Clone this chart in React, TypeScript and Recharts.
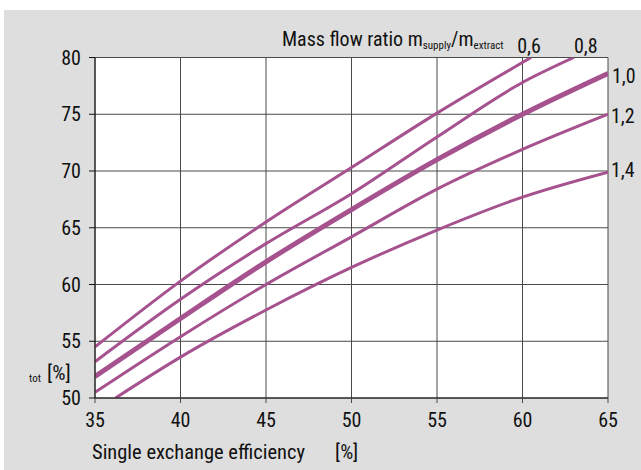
import React from 'react';
import { LineChart, Line, XAxis, YAxis, CartesianGrid, Customized } from 'recharts';

const X_TICKS = [35, 40, 45, 50, 55, 60, 65];
const Y_TICKS = [50, 55, 60, 65, 70, 75, 80];

// efficiency curves, one per mass flow ratio
const R06_X = [35, 40, 45, 50, 55, 60.5];
const R06_Y = [54.5, 60.3, 65.5, 70.3, 75.1, 80];
const R08_X = [35, 40, 45, 50, 55, 60, 63];
const R08_Y = [53.2, 58.7, 63.6, 68.0, 73.0, 77.8, 80];
const R10_X = [35, 40, 45, 50, 55, 60, 65];
const R10_Y = [51.9, 57.0, 62.0, 66.6, 71.0, 75.0, 78.6];
const R12_X = [35, 40, 45, 50, 55, 60, 65];
const R12_Y = [50.5, 55.4, 60.0, 64.2, 68.4, 71.9, 75.0];
const R14_X = [36.2, 40, 45, 50, 55, 60, 65];
const R14_Y = [50, 53.6, 57.75, 61.5, 64.8, 67.7, 69.9];

const RATIO_LABELS = ['0,6', '0,8', '1,0', '1,2', '1,4'];

const FONT = "'Liberation Sans Narrow', 'Roboto Condensed', 'Arial Narrow', sans-serif";
const PURPLE = '#a5528f';
const GRID = '#4a4a4a';

const toPoints = (xs: number[], ys: number[]) => xs.map((x, i) => ({ x, y: ys[i] }));

const series = [
  { name: RATIO_LABELS[0], data: toPoints(R06_X, R06_Y), width: 3, dx: -2, dy: -5, anchor: 'middle' },
  { name: RATIO_LABELS[1], data: toPoints(R08_X, R08_Y), width: 3, dx: 12, dy: -5, anchor: 'middle' },
  { name: RATIO_LABELS[2], data: toPoints(R10_X, R10_Y), width: 5, dx: 4, dy: 10, anchor: 'start' },
  { name: RATIO_LABELS[3], data: toPoints(R12_X, R12_Y), width: 3, dx: 3, dy: 9, anchor: 'start' },
  { name: RATIO_LABELS[4], data: toPoints(R14_X, R14_Y), width: 3, dx: 3, dy: 5, anchor: 'start' },
];

const endLabel = (s: typeof series[number]) => (props: any) => {
  if (props.index !== s.data.length - 1) return <g />;
  return (
    <text x={props.x + s.dx} y={props.y + s.dy} textAnchor={s.anchor as any} fontSize={20} fontFamily={FONT} fill="#111">
      {s.name}
    </text>
  );
};

// offsets of the svg inside the page
const OX = 4;
const OY = 10;

const Texts = () => (
  <g fontFamily={FONT} fill="#111">
    <text x={282 - OX} y={46 - OY} fontSize={20}>
      Mass flow ratio m
      <tspan fontSize={11} dy={3}>supply</tspan>
      <tspan fontSize={20} dy={-3}>/m</tspan>
      <tspan fontSize={11} dy={3}>extract</tspan>
    </text>
    <text x={92 - OX} y={459 - OY} fontSize={20.5}>Single exchange efficiency</text>
    <text x={335 - OX} y={459 - OY} fontSize={20.5}>[%]</text>
    <text x={29 - OX} y={382 - OY} fontSize={11}>tot</text>
    <text x={47 - OX} y={380 - OY} fontSize={21}>[%]</text>
  </g>
);

export default function App() {
  return (
    <div style={{ position: 'absolute', left: OX, top: OY, width: 637, height: 460, background: '#dedede' }}>
      <LineChart width={637} height={460} margin={{ top: 47.5, right: 33, bottom: 0, left: 0 }}>
        <CartesianGrid stroke={GRID} strokeWidth={1} fill="#fff" fillOpacity={1} />
        <XAxis
          type="number"
          dataKey="x"
          domain={[35, 65]}
          ticks={X_TICKS}
          allowDataOverflow
          stroke="#111"
          tickSize={5}
          tickMargin={10}
          tickLine={{ stroke: GRID }}
          tick={{ fontSize: 20, fill: '#111', fontFamily: FONT }}
          height={72}
        />
        <YAxis
          type="number"
          dataKey="y"
          domain={[50, 80]}
          ticks={Y_TICKS}
          allowDataOverflow
          stroke="#111"
          tickSize={6}
          tickMargin={8}
          tickLine={{ stroke: '#111' }}
          tick={{ fontSize: 20, fill: '#111', fontFamily: FONT }}
          width={91}
        />
        {series.map((s) => (
          <Line
            key={s.name}
            data={s.data}
            dataKey="y"
            type="monotone"
            stroke={PURPLE}
            strokeWidth={s.width}
            dot={false}
            label={endLabel(s)}
            isAnimationActive={false}
          />
        ))}
        <Customized component={Texts} />
      </LineChart>
    </div>
  );
}
